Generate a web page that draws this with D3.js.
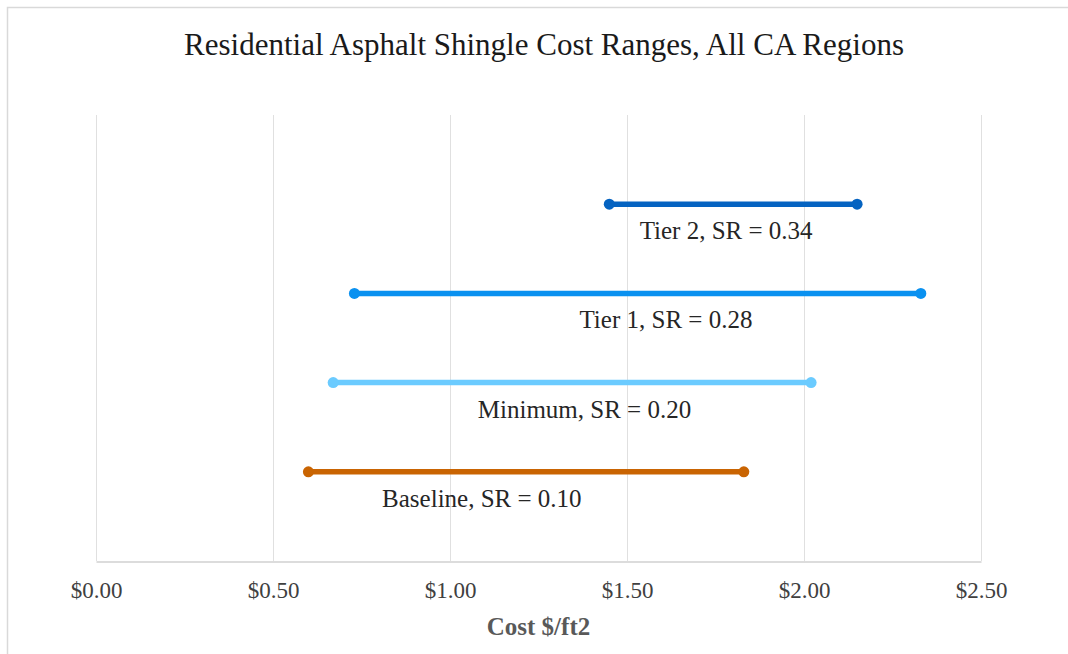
<!DOCTYPE html>
<html>
<head>
<meta charset="utf-8">
<script src="https://cdn.jsdelivr.net/npm/d3@7"></script>
<style>
  body { margin: 0; background: #fff; }
  svg { display: block; }
  text { font-family: "Liberation Serif", "DejaVu Serif", serif; }
</style>
</head>
<body>
<div id="chart"></div>
<script>
// cost ranges, $ per ft2
const tiers = ["Baseline, SR = 0.10", "Minimum, SR = 0.20", "Tier 1, SR = 0.28", "Tier 2, SR = 0.34"];
const lowCost = [0.60, 0.67, 0.73, 1.45];
const highCost = [1.83, 2.02, 2.33, 2.15];
const labelAt = [1.09, 1.38, 1.61, 1.78];   // where excel dropped the data label
const tierColors = ["#C96402", "#6BCBFF", "#0A91F0", "#0563C1"];
const xTicks = [0, 0.5, 1, 1.5, 2, 2.5];

const width = 1068, height = 654;
const margin = {top: 115, right: 87, bottom: 93, left: 96};

const svg = d3.select("#chart").append("svg")
  .attr("width", width)
  .attr("height", height);

// chart frame (only top/left show inside the crop)
svg.append("rect")
  .attr("x", 7.5).attr("y", 7.5)
  .attr("width", width + 20).attr("height", height + 20)
  .attr("fill", "none")
  .attr("stroke", "#d9d9d9")
  .attr("stroke-width", 1.5);

const x = d3.scaleLinear().domain([0, 2.5]).range([margin.left, width - margin.right]);
const y = d3.scaleLinear().domain([0, 5]).range([height - margin.bottom, margin.top]);

// gridlines
svg.append("g")
  .selectAll("line")
  .data(xTicks)
  .join("line")
  .attr("x1", d => Math.round(x(d)) + 0.5)
  .attr("x2", d => Math.round(x(d)) + 0.5)
  .attr("y1", y(5))
  .attr("y2", y(0))
  .attr("stroke", "#e0e0e0")
  .attr("stroke-width", 1);

// x axis
const xAxis = svg.append("g")
  .attr("transform", `translate(0,${Math.round(y(0)) + 0.5})`)
  .call(d3.axisBottom(x).tickValues(xTicks).tickSize(0).tickPadding(20)
    .tickFormat(d => "$" + d3.format(".2f")(d)));
xAxis.select(".domain").attr("stroke", "#d0d0d0").attr("stroke-width", 1.5);
xAxis.selectAll("text")
  .attr("font-family", "Liberation Serif")
  .attr("font-size", 23)
  .attr("fill", "#404040");

svg.append("text")
  .attr("x", (x(0) + x(2.5)) / 2)
  .attr("y", 635)
  .attr("text-anchor", "middle")
  .attr("font-size", 25)
  .attr("font-weight", "bold")
  .attr("fill", "#595959")
  .text("Cost $/ft2");

svg.append("text")
  .attr("x", 544)
  .attr("y", 55)
  .attr("text-anchor", "middle")
  .attr("font-size", 31)
  .attr("fill", "#1a1a1a")
  .text("Residential Asphalt Shingle Cost Ranges, All CA Regions");

// range bars
const rows = tiers.map((t, i) => ({name: t, lo: lowCost[i], hi: highCost[i], at: labelAt[i], color: tierColors[i], level: i + 1}));

const g = svg.append("g").selectAll("g")
  .data(rows)
  .join("g");

g.append("line")
  .attr("x1", d => x(d.lo))
  .attr("x2", d => x(d.hi))
  .attr("y1", d => y(d.level))
  .attr("y2", d => y(d.level))
  .attr("stroke", d => d.color)
  .attr("stroke-width", 5.5);

g.selectAll("circle")
  .data(d => [d.lo, d.hi].map(v => ({v, d})))
  .join("circle")
  .attr("cx", p => x(p.v))
  .attr("cy", p => y(p.d.level))
  .attr("r", 5.5)
  .attr("fill", p => p.d.color);

g.append("text")
  .attr("x", d => x(d.at))
  .attr("y", d => y(d.level) + 35)
  .attr("text-anchor", "middle")
  .attr("font-size", 25)
  .attr("fill", "#262626")
  .text(d => d.name);
</script>
</body>
</html>
